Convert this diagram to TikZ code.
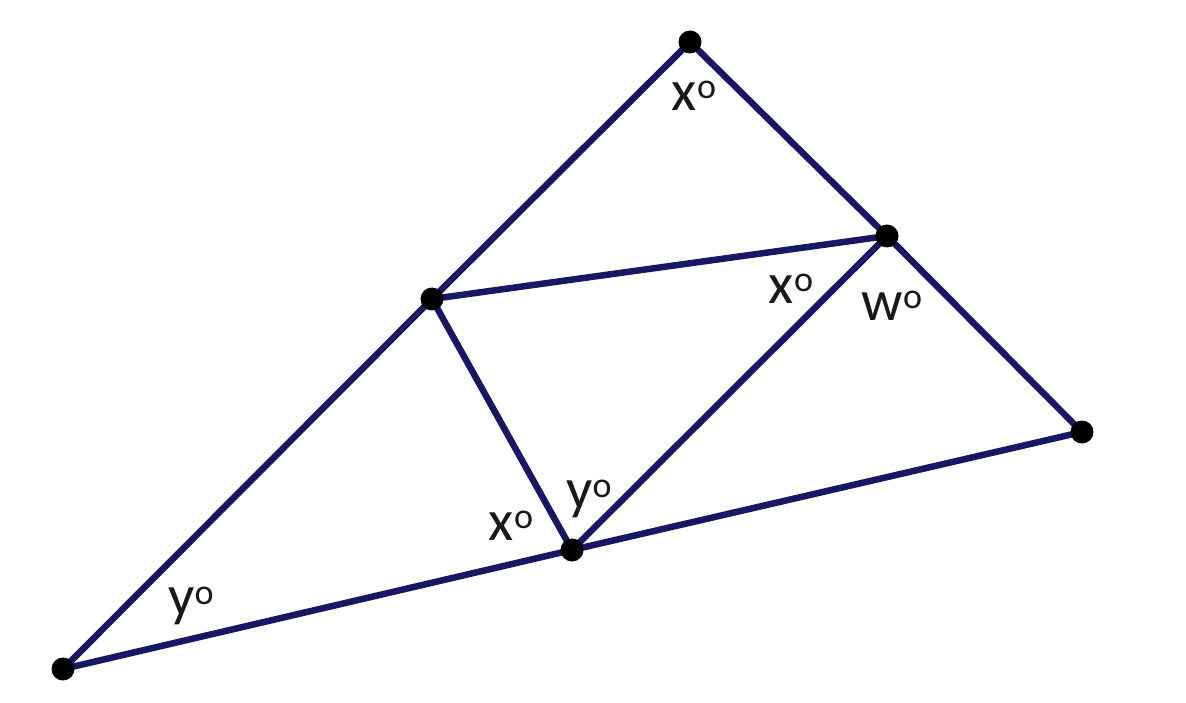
\documentclass[tikz,border=0pt]{standalone}
\usepackage{fontspec}
\setmainfont{Carlito}
\definecolor{navy}{RGB}{25,22,100}
\newcommand{\angdeg}[1]{#1\raisebox{0.42ex}{\fontsize{36}{36}\selectfont o}}
\begin{document}
\begin{tikzpicture}[x=1pt,y=-1pt,
  seg/.style={draw=navy,line width=6.5pt,line cap=round},
  pt/.style={circle,fill=black,inner sep=0pt,minimum size=23pt},
  lab/.style={font=\fontsize{58}{58}\selectfont,inner sep=0pt,text=black!90}]
\useasboundingbox (0,0) rectangle (1186,703);
\fill[white] (0,0) rectangle (1186,703);
\coordinate (A) at (63,669);
\coordinate (B) at (690,42);
\coordinate (C) at (887,236);
\coordinate (D) at (432,299);
\coordinate (E) at (572,550);
\coordinate (F) at (1082,432);
\draw[seg] (A) -- (D) -- (B) -- (C) -- (F) -- (E) -- (A);
\draw[seg] (D) -- (C);
\draw[seg] (D) -- (E) -- (C);
\foreach \p in {A,B,C,D,E,F} \node[pt] (n\p) at (\p) {};
\node[lab] (l1) at (694,96) {\angdeg{x}};
\node[lab] (l2) at (791,289) {\angdeg{x}};
\node[lab] (l3) at (892,306) {\angdeg{w}};
\node[lab] (l4) at (511,526) {\angdeg{x}};
\node[lab] (l5) at (589,499) {\angdeg{y}};
\node[lab] (l6) at (191,606) {\angdeg{y}};
\end{tikzpicture}
\end{document}
